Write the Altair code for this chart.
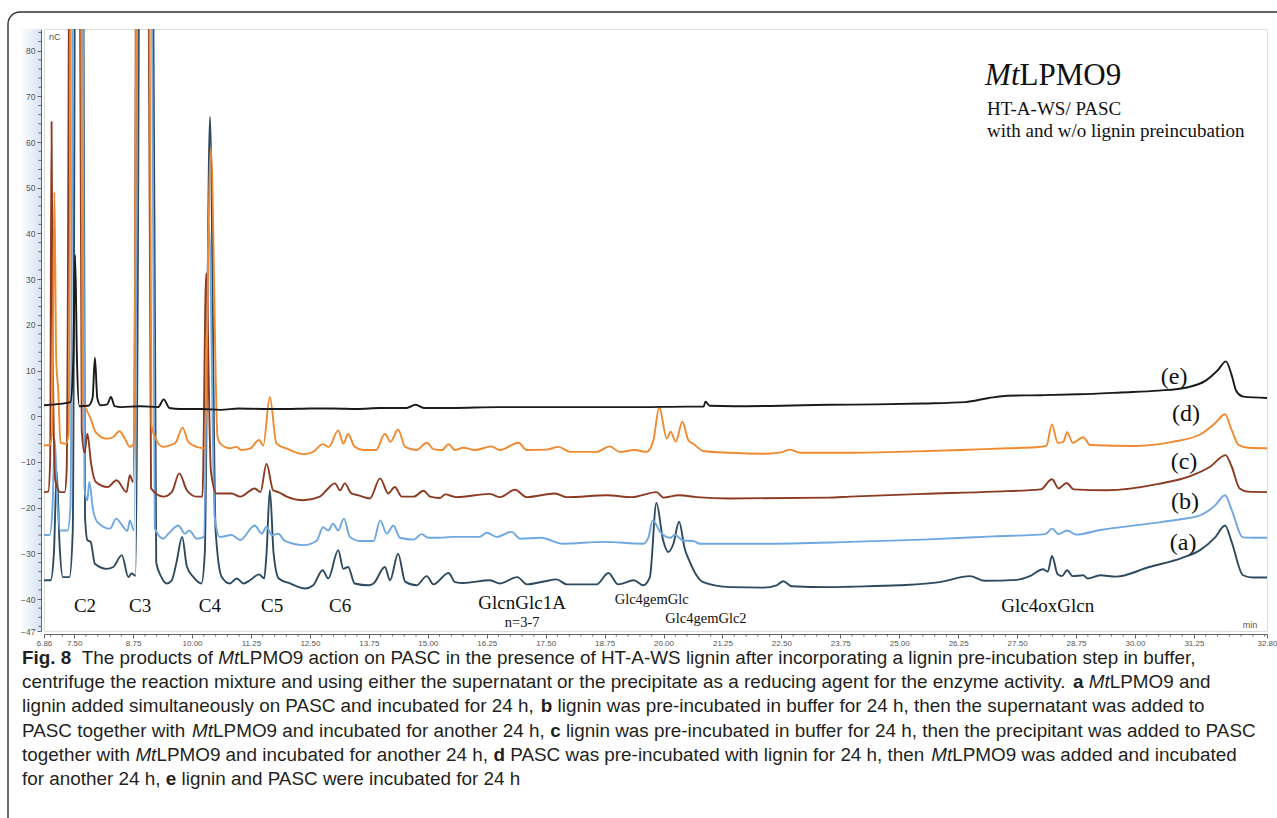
import altair as alt
import pandas as pd

# ---------------- data (retention time in min, signal in nC) ----------------
trace_e = [(6.86,2.4),(7.20,2.7),(7.42,3.1),(7.48,12),(7.52,35.3),(7.56,12),(7.61,2.2),(7.80,2.3),(7.89,4.0),(7.94,12.8),(7.99,4.0),(8.06,2.4),(8.20,2.6),(8.28,4.2),(8.36,2.2),(8.50,2.0),(8.90,2.2),(9.28,2.0),(9.40,3.7),(9.52,1.8),(9.75,1.6),(10.20,1.6),(10.60,1.4),(11.00,1.7),(11.50,1.6),(12.00,1.6),(12.50,1.7),(13.00,1.7),(13.50,1.6),(14.00,1.8),(14.55,1.8),(14.74,2.5),(14.92,1.8),(15.50,1.8),(16.50,2.0),(17.50,2.0),(18.50,2.0),(19.50,2.0),(20.50,2.1),(20.85,2.1),(20.89,3.2),(20.98,2.3),(21.50,2.2),(22.50,2.3),(23.50,2.5),(24.50,2.6),(25.50,2.8),(26.40,3.1),(26.90,4.0),(27.30,4.5),(28.00,4.6),(28.80,4.8),(29.70,5.2),(30.50,5.6),(31.10,6.3),(31.50,7.8),(31.75,10.0),(31.93,12.0),(32.05,9.0),(32.15,5.5),(32.30,4.3),(32.80,4.0)]

trace_d = [(6.86,-6.4),(6.98,-6.3),(7.03,-4.0),(7.08,49.0),(7.12,12.0),(7.16,6.0),(7.21,-5.8),(7.33,-6.0),(7.38,-4.0),(7.53,420.0),(7.68,3.5),(7.78,1.0),(7.85,-0.5),(7.95,-3.4),(8.19,-4.9),(8.32,-4.6),(8.46,-3.3),(8.58,-5.0),(8.68,-6.7),(8.76,-6.0),(8.95,420.0),(9.14,-2.0),(9.21,-4.5),(9.39,-6.7),(9.57,-6.2),(9.65,-5.8),(9.80,-2.5),(9.92,-5.6),(10.10,-6.7),(10.26,-7.0),(10.40,58.7),(10.54,-4.5),(10.60,-6.0),(10.80,-7.0),(10.94,-6.7),(11.05,-7.4),(11.23,-7.1),(11.42,-5.2),(11.51,-6.4),(11.65,4.2),(11.79,-6.0),(12.01,-7.1),(12.36,-8.3),(12.57,-7.8),(12.77,-6.1),(12.90,-6.7),(13.10,-3.1),(13.21,-6.0),(13.31,-3.9),(13.45,-6.7),(13.63,-7.4),(13.90,-7.4),(14.09,-3.9),(14.21,-5.6),(14.37,-2.9),(14.52,-6.7),(14.76,-7.4),(14.98,-5.8),(15.12,-7.2),(15.30,-7.4),(15.44,-6.1),(15.58,-7.4),(15.75,-6.9),(16.00,-7.4),(16.35,-6.6),(16.53,-7.4),(16.92,-5.8),(17.10,-7.4),(17.52,-7.3),(17.77,-6.7),(18.02,-7.8),(18.58,-7.8),(18.86,-6.6),(19.07,-7.8),(19.39,-7.4),(19.64,-7.8),(19.78,-5.5),(19.91,1.9),(20.07,-4.9),(20.15,-3.4),(20.26,-5.6),(20.40,-1.2),(20.53,-5.3),(20.63,-6.0),(20.84,-7.6),(21.41,-8.0),(22.12,-8.2),(22.50,-7.9),(22.68,-7.3),(22.90,-8.0),(23.95,-8.0),(25.00,-7.8),(26.30,-7.4),(27.30,-7.0),(27.90,-6.8),(28.12,-6.5),(28.24,-1.8),(28.36,-5.8),(28.48,-5.6),(28.56,-3.5),(28.68,-5.8),(28.90,-4.6),(29.05,-6.3),(30.00,-6.5),(30.80,-5.6),(31.38,-4.0),(31.70,-1.5),(31.91,0.45),(32.05,-3.0),(32.20,-6.3),(32.40,-6.9),(32.80,-7.0)]

trace_c = [(6.86,-16.6),(6.95,-16.5),(6.99,-10.0),(7.02,64.4),(7.05,10.0),(7.10,-14.0),(7.20,-16.6),(7.30,-16.6),(7.34,-12.0),(7.50,420.0),(7.66,-3.0),(7.72,-8.0),(7.78,-3.8),(7.86,-10.5),(7.96,-14.4),(8.21,-15.5),(8.40,-14.0),(8.61,-16.6),(8.68,-12.9),(8.75,-14.4),(8.93,420.0),(9.13,-15.8),(9.39,-17.6),(9.57,-16.6),(9.73,-12.5),(9.89,-16.2),(10.10,-17.6),(10.22,-17.6),(10.30,31.3),(10.40,-12.0),(10.52,-16.9),(10.84,-16.9),(11.02,-17.6),(11.33,-15.8),(11.45,-16.6),(11.58,-10.4),(11.72,-16.2),(11.83,-16.6),(12.01,-17.6),(12.36,-18.4),(12.71,-17.6),(12.85,-16.2),(13.03,-14.7),(13.14,-16.2),(13.24,-14.7),(13.38,-16.9),(13.53,-17.3),(13.77,-18.0),(13.99,-13.6),(14.16,-16.9),(14.30,-15.5),(14.45,-17.6),(14.70,-17.6),(14.91,-16.3),(15.05,-17.6),(15.26,-17.9),(15.37,-17.1),(15.60,-17.7),(16.32,-17.0),(16.53,-17.7),(16.85,-16.1),(17.10,-17.7),(17.70,-16.9),(17.95,-17.7),(18.80,-17.3),(19.33,-17.7),(19.85,-16.6),(20.00,-17.8),(20.32,-17.3),(20.70,-17.7),(21.40,-18.0),(23.50,-17.8),(23.95,-17.6),(25.50,-17.0),(27.00,-16.5),(28.00,-16.0),(28.24,-13.8),(28.38,-15.8),(28.55,-14.6),(28.70,-16.0),(29.40,-16.2),(30.50,-14.8),(31.20,-13.0),(31.60,-11.0),(31.92,-8.5),(32.05,-11.0),(32.22,-15.8),(32.40,-16.5),(32.80,-16.6)]

trace_b = [(6.86,-26.0),(6.98,-26.0),(7.04,-20.0),(7.09,-5.0),(7.14,-18.0),(7.20,-25.0),(7.36,-25.0),(7.42,-20.0),(7.57,420.0),(7.72,-16.0),(7.78,-18.4),(7.82,-14.4),(7.90,-20.5),(7.99,-23.1),(8.26,-24.6),(8.39,-22.4),(8.54,-24.2),(8.63,-25.1),(8.68,-22.8),(8.77,-25.0),(8.98,420.0),(9.21,-24.5),(9.39,-26.8),(9.50,-25.7),(9.71,-23.9),(9.85,-25.7),(9.94,-25.0),(10.10,-26.8),(10.25,-26.4),(10.36,42.0),(10.48,-22.0),(10.59,-26.4),(10.84,-26.0),(11.02,-27.1),(11.33,-23.9),(11.48,-25.7),(11.58,-24.2),(11.69,-26.0),(11.83,-25.7),(11.97,-27.3),(12.36,-28.2),(12.64,-27.3),(12.78,-24.3),(12.89,-25.0),(12.99,-23.5),(13.10,-25.0),(13.22,-22.4),(13.35,-26.4),(13.56,-27.3),(13.85,-27.3),(13.99,-22.8),(14.13,-25.7),(14.27,-23.9),(14.41,-26.6),(14.70,-27.0),(14.87,-25.8),(15.01,-26.6),(15.26,-26.6),(15.50,-26.4),(16.10,-26.4),(16.25,-25.5),(16.46,-26.4),(16.78,-25.3),(16.96,-26.8),(17.40,-26.6),(17.87,-27.9),(18.72,-27.5),(19.57,-27.9),(19.68,-26.5),(19.77,-22.8),(19.93,-25.3),(20.14,-26.6),(20.24,-26.0),(20.42,-27.2),(20.63,-27.3),(20.77,-27.9),(22.12,-27.9),(23.95,-27.5),(25.50,-27.0),(27.00,-26.3),(28.10,-25.8),(28.24,-24.6),(28.38,-25.8),(28.56,-25.0),(28.75,-25.9),(29.26,-24.9),(30.30,-23.5),(31.00,-22.5),(31.38,-21.7),(31.70,-19.5),(31.91,-17.3),(32.05,-20.5),(32.29,-26.5),(32.50,-26.6),(32.80,-26.6)]

trace_a = [(6.86,-35.9),(7.00,-35.9),(7.07,-30.0),(7.13,-12.0),(7.19,-28.0),(7.26,-35.2),(7.40,-35.2),(7.47,-25.0),(7.60,420.0),(7.73,-22.0),(7.78,-27.1),(7.85,-27.5),(7.94,-32.3),(8.19,-33.4),(8.33,-33.0),(8.51,-30.4),(8.65,-35.2),(8.72,-34.4),(8.80,-34.9),(9.01,420.0),(9.24,-32.0),(9.35,-35.2),(9.46,-36.6),(9.57,-35.9),(9.67,-32.0),(9.79,-26.4),(9.89,-32.9),(10.03,-35.2),(10.20,-36.6),(10.27,-30.0),(10.38,65.5),(10.50,-25.0),(10.63,-35.2),(10.80,-36.6),(10.95,-35.5),(11.09,-36.6),(11.23,-35.9),(11.42,-34.6),(11.53,-35.5),(11.58,-30.0),(11.65,-16.2),(11.73,-30.0),(11.84,-35.5),(12.08,-36.6),(12.40,-37.7),(12.57,-37.0),(12.77,-33.7),(12.89,-35.5),(13.10,-29.3),(13.21,-33.4),(13.31,-33.0),(13.45,-36.6),(13.74,-37.0),(13.85,-36.6),(14.09,-33.0),(14.20,-35.9),(14.37,-30.1),(14.52,-36.2),(14.76,-37.0),(14.98,-35.0),(15.12,-36.8),(15.44,-34.3),(15.58,-36.3),(15.75,-36.5),(16.32,-35.9),(16.53,-36.6),(16.90,-35.2),(17.10,-36.8),(17.49,-36.1),(17.73,-35.7),(17.95,-36.8),(18.58,-36.8),(18.83,-34.3),(19.04,-36.8),(19.37,-35.9),(19.57,-37.0),(19.71,-35.2),(19.85,-19.0),(19.99,-27.1),(20.10,-29.7),(20.21,-27.9),(20.33,-23.1),(20.45,-29.0),(20.56,-31.9),(20.70,-34.8),(20.84,-36.3),(21.41,-37.4),(22.12,-37.5),(22.40,-37.0),(22.54,-36.1),(22.72,-37.2),(23.53,-37.4),(23.95,-37.3),(25.00,-37.0),(25.86,-36.3),(26.50,-35.0),(26.80,-36.0),(27.50,-35.8),(27.77,-35.0),(28.05,-33.5),(28.15,-34.0),(28.24,-30.6),(28.36,-34.6),(28.45,-35.0),(28.56,-33.7),(28.68,-35.0),(28.90,-34.8),(29.00,-35.5),(29.26,-34.8),(29.60,-35.1),(30.30,-33.0),(31.00,-31.0),(31.38,-29.3),(31.70,-26.5),(31.91,-23.9),(32.05,-27.5),(32.29,-34.8),(32.50,-35.3),(32.80,-35.3)]

trace_colors = {"a": "#2d4a60", "b": "#6fa7e0", "c": "#8c3b22", "d": "#f08a30", "e": "#1a1a1a"}

x_ticks = [6.86, 7.50, 8.75, 10.00, 11.25, 12.50, 13.75, 15.00, 16.25, 17.50, 18.75,
           20.00, 21.25, 22.50, 23.75, 25.00, 26.25, 27.50, 28.75, 30.00, 31.25, 32.80]
y_ticks = [-47, -40, -30, -20, -10, 0, 10, 20, 30, 40, 50, 60, 70, 80]

peak_labels = ["C2", "C3", "C4", "C5", "C6", "GlcnGlc1A", "Glc4oxGlcn"]
peak_label_t = [7.73, 8.90, 10.38, 11.70, 13.14, 17.00, 28.15]
peak_label_v = [-41.6, -41.6, -41.6, -41.6, -41.6, -40.9, -41.6]

small_labels = ["n=3-7", "Glc4gemGlc", "Glc4gemGlc2"]
small_label_t = [17.00, 19.75, 20.90]
small_label_v = [-45.2, -40.3, -44.4]

trace_labels = ["(e)", "(d)", "(c)", "(b)", "(a)"]
trace_label_t = [30.83, 31.08, 31.04, 31.06, 31.02]
trace_label_v = [8.6, 0.4, -10.1, -18.8, -27.8]

title_t, title_v = 26.82, 72.5
subtitle_lines = ["HT-A-WS/ PASC", "with and w/o lignin preincubation"]
subtitle_t = 26.86
subtitle_v = [65.9, 61.1]

caption_lines = [
    [("Fig. 8", "b"), ("  The products of ", "r"), ("Mt", "i"),
     ("LPMO9 action on PASC in the presence of HT-A-WS lignin after incorporating a lignin pre-incubation step in buffer,", "r")],
    [("centrifuge the reaction mixture and using either the supernatant or the precipitate as a reducing agent for the enzyme activity. ", "r"),
     ("a", "b"), (" ", "r"), ("Mt", "i"), ("LPMO9 and", "r")],
    [("lignin added simultaneously on PASC and incubated for 24 h, ", "r"), ("b", "b"),
     (" lignin was pre-incubated in buffer for 24 h, then the supernatant was added to", "r")],
    [("PASC together with ", "r"), ("Mt", "i"), ("LPMO9 and incubated for another 24 h, ", "r"), ("c", "b"),
     (" lignin was pre-incubated in buffer for 24 h, then the precipitant was added to PASC", "r")],
    [("together with ", "r"), ("Mt", "i"), ("LPMO9 and incubated for another 24 h, ", "r"), ("d", "b"),
     (" PASC was pre-incubated with lignin for 24 h, then ", "r"), ("Mt", "i"), ("LPMO9 was added and incubated", "r")],
    [("for another 24 h, ", "r"), ("e", "b"), (" lignin and PASC were incubated for 24 h", "r")],
]

# ---------------- layout ----------------
W, H = 1223, 602
PAD_L, PAD_T = 44, 29
SANS = "Liberation Sans"
SERIF = "Liberation Serif"

# Arial-compatible advance widths (1/1000 em) for laying out caption segments
AR = {' ': 278, ',': 278, '-': 333, '.': 278, '/': 278, '=': 584, '(': 333, ')': 333,
      'A': 667, 'B': 667, 'C': 722, 'D': 722, 'E': 667, 'F': 611, 'G': 778, 'H': 722, 'I': 278,
      'L': 556, 'M': 833, 'O': 778, 'P': 667, 'S': 667, 'T': 611, 'W': 944,
      'a': 556, 'b': 556, 'c': 500, 'd': 556, 'e': 556, 'f': 278, 'g': 556, 'h': 556, 'i': 222,
      'j': 222, 'k': 500, 'l': 222, 'm': 833, 'n': 556, 'o': 556, 'p': 556, 'q': 556, 'r': 333,
      's': 500, 't': 278, 'u': 556, 'v': 500, 'w': 722, 'x': 500, 'y': 500, 'z': 500}
ARB = dict(AR)
ARB.update({'a': 556, 'b': 611, 'c': 556, 'd': 611, 'e': 556, 'i': 278, 'g': 611, 'F': 611})


def em(s, style):
    tab = ARB if style == "b" else AR
    return sum(tab.get(ch, 556) for ch in s) / 1000.0


cap_x0 = 22
line1_em = sum(em(s, st) for s, st in caption_lines[0])
cap_fs = (1200 - cap_x0) / line1_em
cap_base0, cap_step = 664, 24.2

xs = alt.Scale(domain=[6.86, 32.8], nice=False, zero=False)
ys = alt.Scale(domain=[-47, 84.75], nice=False, zero=False)

xaxis = alt.Axis(values=x_ticks, format=".2f", title=None, grid=False, offset=3,
                 labelFont=SANS, labelFontSize=8, labelColor="#555", labelPadding=1,
                 tickSize=4, tickColor="#666", domainColor="#666", labelOverlap=False,
                 labelFlush=False, zindex=1)
yaxis = alt.Axis(values=y_ticks, format="d", title=None, grid=False, offset=3,
                 labelFont=SANS, labelFontSize=8.5, labelColor="#555", labelPadding=2,
                 tickSize=4, tickColor="#666", domainColor="#666", labelOverlap=False, zindex=1)

X = lambda f: alt.X(f, scale=xs, axis=xaxis)
Y = lambda f: alt.Y(f, scale=ys, axis=yaxis)

one = pd.DataFrame({"k": [0]})
layers = []

# light blue band behind the y axis
layers.append(alt.Chart(one).mark_rect(
    fill=alt.Gradient(gradient="linear", x1=0, x2=1, y1=0, y2=0,
                      stops=[alt.GradientStop(color="#ffffff", offset=0),
                             alt.GradientStop(color="#d6e4f2", offset=1)])
).encode(x=alt.value(-24), x2=alt.value(-3), y=alt.value(0), y2=alt.value(H)))

# minor ticks
x_minor = [round(7.0 + 0.25 * i, 2) for i in range(104)]
x_minor = [v for v in x_minor if v < 32.8 and all(abs(v - m) > 0.01 for m in x_ticks)]
y_minor = [v for v in range(-46, 85, 2) if v % 10 != 0]
layers.append(alt.Chart(pd.DataFrame({"t": x_minor})).mark_rule(color="#666", strokeWidth=1).encode(
    x=X("t:Q"), y=alt.value(H + 3), y2=alt.value(H + 5.5)))
layers.append(alt.Chart(pd.DataFrame({"v": y_minor})).mark_rule(color="#666", strokeWidth=1).encode(
    y=Y("v:Q"), x=alt.value(-3), x2=alt.value(-5.5)))

# traces
for name, tr in [("a", trace_a), ("b", trace_b), ("c", trace_c), ("d", trace_d), ("e", trace_e)]:
    df = pd.DataFrame({"t": [p[0] for p in tr], "v": [p[1] for p in tr]})
    layers.append(alt.Chart(df).mark_line(color=trace_colors[name], strokeWidth=1.9,
                                          interpolate="monotone", clip=True).encode(
        x=X("t:Q"), y=Y("v:Q")))


def text_layer(texts, ts, vs, size, font=SERIF, style="normal", align="center", baseline="middle"):
    df = pd.DataFrame({"label": texts, "t": ts, "v": vs})
    return alt.Chart(df).mark_text(font=font, fontSize=size, fontStyle=style, align=align,
                                   baseline=baseline, color="#111").encode(
        x=X("t:Q"), y=Y("v:Q"), text="label:N")


layers.append(text_layer(peak_labels, peak_label_t, peak_label_v, 19))
layers.append(text_layer(small_labels, small_label_t, small_label_v, 14.5))
layers.append(text_layer(trace_labels, trace_label_t, trace_label_v, 24))

# title block
title_fs = 31
mt_width_min = (833 + 278) / 1000.0 * title_fs / (W / (32.8 - 6.86))
layers.append(text_layer(["Mt"], [title_t], [title_v], title_fs, style="italic",
                         align="left", baseline="alphabetic"))
layers.append(text_layer(["LPMO9"], [title_t + mt_width_min], [title_v], title_fs,
                         align="left", baseline="alphabetic"))
layers.append(text_layer(subtitle_lines, [subtitle_t] * 2, subtitle_v, 19,
                         align="left", baseline="alphabetic"))

# unit labels
layers.append(alt.Chart(one).mark_text(font=SANS, fontSize=9, color="#555", align="left",
                                       baseline="middle").encode(
    x=alt.value(5), y=alt.value(8), text=alt.value("nC")))
layers.append(alt.Chart(one).mark_text(font=SANS, fontSize=9, color="#555", align="center",
                                       baseline="middle").encode(
    x=alt.value(1206), y=alt.value(596), text=alt.value("min")))

# caption
for li, line in enumerate(caption_lines):
    x = cap_x0
    yb = cap_base0 + li * cap_step
    for s, st in line:
        lead = len(s) - len(s.lstrip(" "))
        txt = s.strip(" ")
        if txt:
            layers.append(alt.Chart(one).mark_text(
                font=SANS, fontSize=cap_fs, color="#231f20", align="left", baseline="alphabetic",
                fontWeight="bold" if st == "b" else "normal",
                fontStyle="italic" if st == "i" else "normal").encode(
                x=alt.value(x + em(" " * lead, st) * cap_fs - PAD_L),
                y=alt.value(yb - PAD_T), text=alt.value(txt)))
        x += em(s, st) * cap_fs

# outer rounded figure frame
layers.append(alt.Chart(one).mark_rect(cornerRadius=12, fillOpacity=0, stroke="#333",
                                       strokeWidth=1.4).encode(
    x=alt.value(8 - PAD_L), x2=alt.value(1300 - PAD_L),
    y=alt.value(12 - PAD_T), y2=alt.value(860 - PAD_T)))

chart = alt.layer(*layers).properties(
    width=W, height=H,
    autosize=alt.AutoSizeParams(type="none"),
    padding={"left": PAD_L, "top": PAD_T, "right": 1277 - PAD_L - W, "bottom": 818 - PAD_T - H},
).configure_view(stroke="#8a8a8a", strokeWidth=1).configure(background="white")

chart.save("out.html", embed_options={"renderer": "svg", "actions": False})
